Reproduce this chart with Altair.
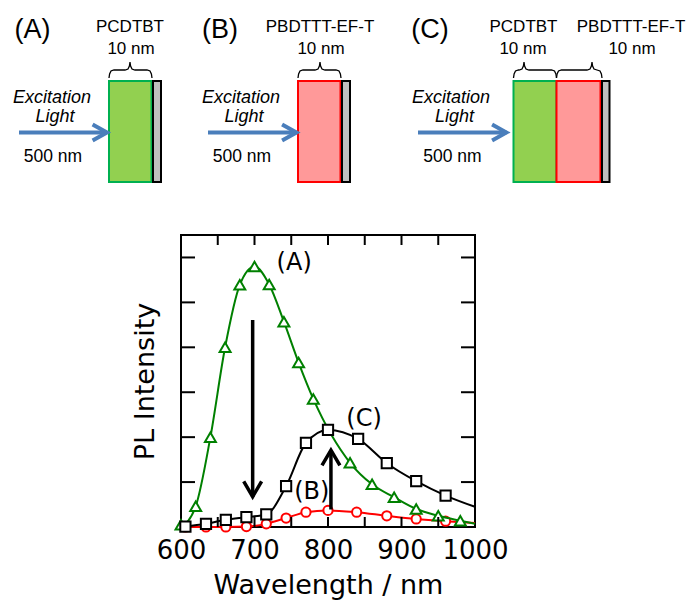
import altair as alt
import pandas as pd

# ---------------- PL spectra ----------------
# (A) PCDTBT only : green triangles
A_mk_wl = [600, 620, 640, 660, 680, 700, 720, 740, 760, 780, 830, 860, 890, 920, 950, 980]
A_mk_pl = [0.05, 0.46, 2.0, 4.0, 5.39, 5.8, 5.4, 4.57, 3.66, 2.85, 1.43, 0.95, 0.66, 0.40, 0.25, 0.14]
A_ln_wl = [600, 620, 640, 660, 680, 700, 720, 740, 760, 780, 830, 860, 890, 920, 950, 980, 1000]
A_ln_pl = [0.0, 0.46, 2.0, 4.0, 5.39, 5.8, 5.4, 4.57, 3.66, 2.85, 1.43, 0.95, 0.66, 0.40, 0.25, 0.14, 0.07]

# (B) PBDTTT-EF-T only : red circles
B_mk_wl = [606, 634, 661, 689, 716, 743, 770, 800, 839, 880, 920, 960]
B_mk_pl = [0.0, 0.0, 0.0, 0.01, 0.07, 0.2, 0.33, 0.37, 0.33, 0.25, 0.18, 0.13]
B_ln_wl = [600, 606, 634, 661, 689, 716, 743, 770, 800, 839, 880, 920, 960, 1000]
B_ln_pl = [0.0, 0.0, 0.0, 0.0, 0.01, 0.07, 0.2, 0.33, 0.37, 0.33, 0.25, 0.18, 0.13, 0.09]

# (C) bilayer : black squares
C_mk_wl = [606, 634, 661, 689, 716, 743, 770, 800, 841, 880, 920, 960]
C_mk_pl = [0.01, 0.07, 0.16, 0.22, 0.28, 0.91, 1.87, 2.16, 1.96, 1.42, 1.02, 0.70]
C_ln_wl = [600, 606, 634, 661, 689, 716, 743, 770, 800, 841, 880, 920, 960, 1000]
C_ln_pl = [0.0, 0.01, 0.07, 0.16, 0.22, 0.28, 0.91, 1.87, 2.16, 1.96, 1.42, 1.02, 0.70, 0.45]

x_labels = [600, 700, 800, 900, 1000]
x_minor = [650, 700, 750, 800, 850, 900, 950]
y_minor = [1, 2, 3, 4, 5, 6]

# annotations in the plot
ann_text = ["(A)", "(B)", "(C)"]
ann_wl = [754, 778, 849]
ann_pl = [5.88, 0.79, 2.41]
arrow_wl = [697.5, 804]
arrow_from = [4.61, 0.39]
arrow_to = [0.675, 1.71]

# ---------------- schematic (diagram units = page pixels) ----------------
panel_lbl = ["(A)", "(B)", "(C)"]
panel_lbl_x = [32.5, 220, 430]
mat_text = ["PCDTBT", "PBDTTT-EF-T", "PCDTBT", "PBDTTT-EF-T"]
mat_x = [130, 320, 523.5, 631]
thick_text = ["10 nm", "10 nm", "10 nm", "10 nm"]
thick_x = [131, 321, 523, 632]
layer_x0 = [109, 153, 298, 342, 513.5, 556.5, 602]
layer_x1 = [151.5, 161, 340.5, 350, 556.5, 600.5, 609.5]
layer_fill = ["#92d050", "#bfbfbf", "#ff9999", "#bfbfbf", "#92d050", "#ff9999", "#bfbfbf"]
layer_stroke = ["#00b050", "#000000", "#ff0000", "#000000", "#00b050", "#ff0000", "#000000"]
brace_x0 = [109, 298, 513.5, 556.5]
brace_pk = [130, 320, 524, 592]
brace_x1 = [152, 341, 556.5, 602]
exc_x = [52, 241, 451]
light_x = [55, 244, 454.5]
nm500_x = [53, 242, 452.5]
beam_x0 = [19, 208, 418]
beam_x1 = [107, 296.5, 506.5]

FONT = "DejaVu Sans"
DFONT = "Liberation Sans"
W, H = 294, 292

xs = alt.Scale(domain=[600, 1000], nice=False, zero=False)
ys = alt.Scale(domain=[0, 6.5], nice=False, zero=False)
xaxis = alt.Axis(values=x_labels, ticks=False, domain=False, grid=False, labelFont=FONT,
                 labelFontSize=26, labelColor="black", labelPadding=10, labelFlush=False,
                 labelOverlap=False, title="Wavelength / nm", titleFont=FONT, titleFontSize=27,
                 titleFontWeight="normal", titleColor="black", titlePadding=9, format="d")
yaxis = alt.Axis(labels=False, ticks=False, domain=False, grid=False, title="PL Intensity",
                 titleFont=FONT, titleFontSize=27, titleFontWeight="normal", titleColor="black",
                 titlePadding=22)


def X(f):
    return alt.X(f, type="quantitative", scale=xs, axis=xaxis)


def Y(f):
    return alt.Y(f, type="quantitative", scale=ys, axis=yaxis)


def series(wl_l, pl_l, wl_m, pl_m, color, shape, size):
    ln = alt.Chart(pd.DataFrame({"wl": wl_l, "pl": pl_l})).mark_line(
        color=color, strokeWidth=2, interpolate="monotone").encode(x=X("wl"), y=Y("pl"))
    pt = alt.Chart(pd.DataFrame({"wl": wl_m, "pl": pl_m})).mark_point(
        shape=shape, filled=True, fill="white", stroke=color, strokeWidth=2, size=size,
        opacity=1).encode(x=X("wl"), y=Y("pl"))
    return [ln, pt]


layers = []
layers += series(B_ln_wl, B_ln_pl, B_mk_wl, B_mk_pl, "#ff0000", "circle", 85)
layers += series(A_ln_wl, A_ln_pl, A_mk_wl, A_mk_pl, "#008000", "triangle-up", 120)
layers += series(C_ln_wl, C_ln_pl, C_mk_wl, C_mk_pl, "#000000", "square", 105)

xt = pd.DataFrame({"wl": x_minor})
yt = pd.DataFrame({"pl": y_minor})
layers.append(alt.Chart(xt).mark_rule(color="black", strokeWidth=2).encode(
    x=X("wl"), y=alt.value(H), y2=alt.value(H - 10)))
layers.append(alt.Chart(xt).mark_rule(color="black", strokeWidth=2).encode(
    x=X("wl"), y=alt.value(0), y2=alt.value(10)))
layers.append(alt.Chart(yt).mark_rule(color="black", strokeWidth=2).encode(
    y=Y("pl"), x=alt.value(0), x2=alt.value(14)))
layers.append(alt.Chart(yt).mark_rule(color="black", strokeWidth=2).encode(
    y=Y("pl"), x=alt.value(W), x2=alt.value(W - 14)))

arr = pd.DataFrame({"wl": arrow_wl, "y0": arrow_from, "y1": arrow_to,
                    "shape": ["M-1,-1.7L0,0L1,-1.7", "M-1,1.7L0,0L1,1.7"]})
layers.append(alt.Chart(arr).mark_rule(color="black", strokeWidth=3.5).encode(
    x=X("wl"), y=Y("y0"), y2="y1"))
layers.append(alt.Chart(arr).mark_point(filled=False, stroke="black", strokeWidth=3.5,
                                        size=320, opacity=1).encode(
    x=X("wl"), y=Y("y1"), shape=alt.Shape("shape:N", scale=None)))

ann = pd.DataFrame({"t": ann_text, "wl": ann_wl, "pl": ann_pl})
layers.append(alt.Chart(ann).mark_text(font=FONT, fontSize=24, color="black").encode(
    x=X("wl"), y=Y("pl"), text="t"))

plot = alt.layer(*layers)

# ---------------- schematic layers ----------------
dxs = alt.Scale(domain=[0, 691], range=[-181, 510], nice=False, zero=False)
dys = alt.Scale(domain=[0, 604], range=[-235, 369], nice=False, zero=False)


def DX(f):
    return alt.X(f, type="quantitative", scale=dxs, axis=None)


def DY(f):
    return alt.Y(f, type="quantitative", scale=dys, axis=None)


def dtext(texts, xs_, y, size, style="normal"):
    df = pd.DataFrame({"t": texts, "x": xs_, "y": [y] * len(texts)})
    return alt.Chart(df).mark_text(font=DFONT, fontSize=size, fontStyle=style, color="black",
                                   baseline="alphabetic", align="center").encode(
        x=DX("x"), y=DY("y"), text="t")


dl = []
lay = pd.DataFrame({"x0": layer_x0, "x1": layer_x1, "y0": [81] * 7, "y1": [182] * 7,
                    "fill": layer_fill, "stroke": layer_stroke})
dl.append(alt.Chart(lay).mark_rect(strokeWidth=2).encode(
    x=DX("x0"), x2="x1", y=DY("y0"), y2="y1",
    fill=alt.Fill("fill:N", scale=None), stroke=alt.Stroke("stroke:N", scale=None)))

rows = []
for i, (a, p, b) in enumerate(zip(brace_x0, brace_pk, brace_x1)):
    pts = [(a, 78), (a + 0.6, 74), (a + 2, 71), (a + 5, 70), (p - 5, 70), (p - 2, 69),
           (p - 0.6, 66), (p, 62), (p + 0.6, 66), (p + 2, 69), (p + 5, 70), (b - 5, 70),
           (b - 2, 71), (b - 0.6, 74), (b, 78)]
    for k, (x, y) in enumerate(pts):
        rows.append({"b": i, "k": k, "x": x, "y": y})
dl.append(alt.Chart(pd.DataFrame(rows)).mark_line(color="black", strokeWidth=1.3).encode(
    x=DX("x"), y=DY("y"), detail="b:N", order="k:Q"))

beam = pd.DataFrame({"x0": beam_x0, "x1": beam_x1, "y": [132.5] * 3})
dl.append(alt.Chart(beam).mark_rule(color="#4a7ebb", strokeWidth=4).encode(
    x=DX("x0"), x2="x1", y=DY("y")))
dl.append(alt.Chart(beam).mark_point(shape="M-1.8,-1L0,0L-1.8,1", filled=False,
                                     stroke="#4a7ebb", strokeWidth=4, size=256, opacity=1).encode(
    x=DX("x1"), y=DY("y")))

dl.append(dtext(panel_lbl, panel_lbl_x, 37.5, 27))
dl.append(dtext(mat_text, mat_x, 31.5, 17))
dl.append(dtext(thick_text, thick_x, 53.5, 17))
dl.append(dtext(["Excitation"] * 3, exc_x, 103, 18, "italic"))
dl.append(dtext(["Light"] * 3, light_x, 122, 18, "italic"))
dl.append(dtext(["500 nm"] * 3, nm500_x, 161.5, 17.5))

diagram = alt.layer(*dl)

chart = alt.layer(plot, diagram).resolve_scale(x="independent", y="independent").properties(
    width=W, height=H, autosize="none",
    padding={"left": 181, "top": 235, "right": 691 - 181 - W, "bottom": 604 - 235 - H},
    background="white",
).configure_view(stroke="black", strokeWidth=2)

chart.save("out.html", embed_options={"renderer": "svg", "actions": False})
